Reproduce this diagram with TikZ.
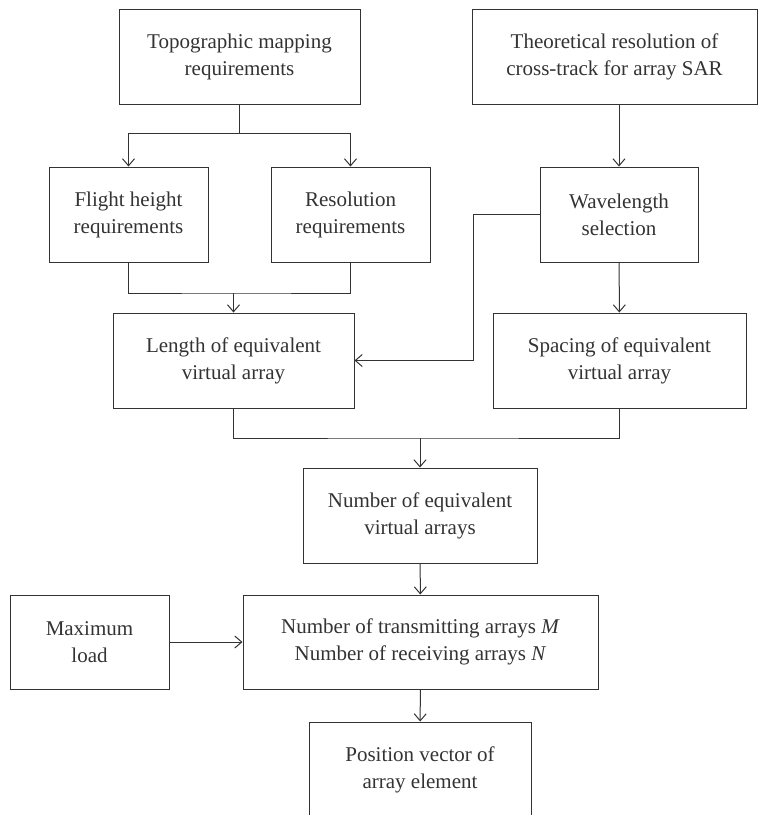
\documentclass[tikz,border=0pt]{standalone}
\usepackage{fontspec}
\setmainfont{Liberation Serif}
\usetikzlibrary{arrows.meta}

\begin{document}
\begin{tikzpicture}[x=1pt,y=-1pt,
  every node/.style={font=\fontsize{21}{27}\selectfont,text=black!80},
  box/.style={draw=black!80,line width=1pt,align=center,minimum height=95pt,inner sep=0pt},
  link/.style={draw=black!80,line width=1pt},
  arr/.style={link,-{Straight Barb[length=7pt,width=12pt]}}]
  \clip (0,0) rectangle (758,815);
  \node[box,minimum width=241pt] (topo) at (239.5,56.5) {Topographic mapping\\requirements};
  \node[box,minimum width=285pt] (theo) at (614.5,56.5) {Theoretical resolution of\\cross-track for array SAR};
  \node[box,minimum width=159pt] (flight) at (128.5,214.5) {Flight height\\requirements};
  \node[box,minimum width=159pt] (reso) at (350.5,214.5) {Resolution\\requirements};
  \node[box,minimum width=158pt] (wave) at (619,214.5) {Wavelength\\selection};
  \node[box,minimum width=241pt] (length) at (233.5,360.5) {Length of equivalent\\virtual array};
  \node[box,minimum width=253pt] (spacing) at (619.5,360.5) {Spacing of equivalent\\virtual array};
  \node[box,minimum width=234pt] (number) at (420,515.5) {Number of equivalent\\virtual arrays};
  \node[box,minimum width=159pt,minimum height=94pt] (maxload) at (89.5,642) {Maximum\\load};
  \node[box,minimum width=355pt,minimum height=94pt] (trans) at (420.5,642) {Number of transmitting arrays \textit{M}\\Number of receiving arrays \textit{N}};
  \node[box,minimum width=222pt] (pos) at (420,769.5) {Position vector of\\array element};
  \coordinate (split) at (239.5,133);
  \coordinate (merge1) at (233.5,293);
  \coordinate (bend) at (473,214.5);
  \coordinate (merge2) at (420,438);
  \draw[link] (topo) -- (split);
  \draw[arr] (split) -| (flight);
  \draw[arr] (split) -| (reso);
  \draw[link] (flight) |- (merge1) -| (reso);
  \draw[arr] (merge1) -- (length);
  \draw[arr] (theo.south -| wave.north) -- (wave);
  \draw[arr] (wave) -- (spacing);
  \draw[arr] (wave) -- (bend) |- (length);
  \draw[link] (length) |- (merge2) -| (spacing);
  \draw[arr] (merge2) -- (number);
  \draw[arr] (number) -- (trans);
  \draw[arr] (maxload) -- (trans);
  \draw[arr] (trans) -- (pos);
\end{tikzpicture}
\end{document}
